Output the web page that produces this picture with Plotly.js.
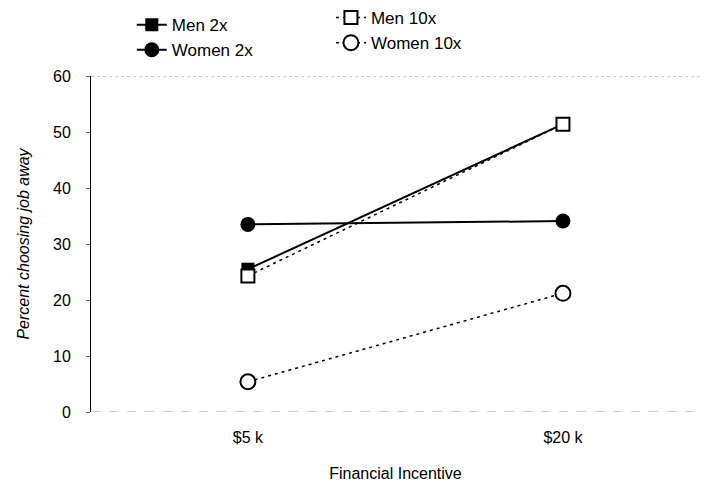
<!DOCTYPE html>
<html><head><meta charset="utf-8">
<script src="https://cdn.plot.ly/plotly-3.0.1.min.js"></script>
<style>body{margin:0;background:#fff}#chart{width:712px;height:485px}</style>
</head><body><div id="chart"></div>
<script>
const categories = ["$5 k", "$20 k"];
const men2x = [25.5, 51.4];
const women2x = [33.5, 34.1];
const men10x = [24.3, 51.4];
const women10x = [5.4, 21.2];
const yTicks = [0, 10, 20, 30, 40, 50, 60];

const font = {family: "Liberation Sans, Arial, sans-serif", color: "#000", size: 15};
const traces = [
  {name: "Men 2x", x: categories, y: men2x, mode: "lines+markers", legend: "legend",
   line: {color: "#000", width: 2, dash: "solid"},
   marker: {symbol: "square", size: 13, color: "#000"}},
  {name: "Women 2x", x: categories, y: women2x, mode: "lines+markers", legend: "legend",
   line: {color: "#000", width: 2, dash: "solid"},
   marker: {symbol: "circle", size: 15, color: "#000"}},
  {name: "Men 10x", x: categories, y: men10x, mode: "lines+markers", legend: "legend2",
   line: {color: "#000", width: 1.5, dash: "3px,4px"},
   marker: {symbol: "square", size: 13, color: "#fff", line: {width: 2, color: "#000"}}},
  {name: "Women 10x", x: categories, y: women10x, mode: "lines+markers", legend: "legend2",
   line: {color: "#000", width: 1.5, dash: "3px,4px"},
   marker: {symbol: "circle", size: 15, color: "#fff", line: {width: 2, color: "#000"}}}
];
const legFont = {family: font.family, size: 17, color: "#000"};
const layout = {
  width: 712, height: 485,
  margin: {l: 91, r: 12, t: 76, b: 73, autoexpand: false},
  paper_bgcolor: "#fff", plot_bgcolor: "#fff",
  font: font,
  showlegend: true,
  legend: {x: 0.067, y: 1.205, xanchor: "left", yanchor: "top", bgcolor: "rgba(0,0,0,0)",
           font: legFont, tracegroupgap: 0},
  legend2: {x: 0.394, y: 1.226, xanchor: "left", yanchor: "top", bgcolor: "rgba(0,0,0,0)",
           font: legFont, tracegroupgap: 0},
  xaxis: {type: "category", range: [-0.498, 1.435], showgrid: false, zeroline: false,
          showline: false, ticks: "", tickfont: {size: 16}, ticklabelstandoff: 14,
          title: {text: "Financial Incentive", font: {size: 16}, standoff: 22}},
  yaxis: {range: [0, 60], tickvals: yTicks, showgrid: false, zeroline: false,
          showline: true, linecolor: "#000", linewidth: 1, ticks: "outside", ticklen: 4,
          tickcolor: "#666", tickfont: {size: 16}, ticklabelstandoff: 12,
          title: {text: "<i>Percent choosing job away</i>", font: {size: 16}, standoff: 19}},
  shapes: [
    {type: "line", xref: "paper", yref: "y", x0: 0, x1: 1, y0: 60, y1: 60,
     line: {color: "#999", width: 1, dash: "dot"}},
    {type: "line", xref: "paper", yref: "y", x0: 0, x1: 1, y0: 0, y1: 0,
     line: {color: "#999", width: 1, dash: "dash"}}
  ]
};
Plotly.newPlot("chart", traces, layout, {displayModeBar: false, staticPlot: true});
</script></body></html>
